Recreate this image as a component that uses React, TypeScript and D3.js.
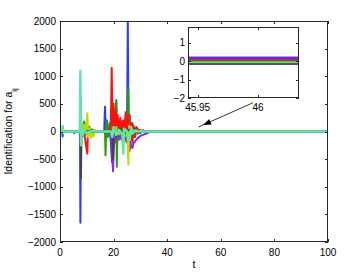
import React from "react";
import * as d3 from "d3";

type Pt = [number, number];

// series, [t, value]
const blueSeries: Pt[] = [
  [0, 0], [0.8, 0], [1, -90], [1.2, 20], [1.5, 0], [5, 0], [5.3, -30], [5.6, 0],
  [7.4, 0], [7.5, -300], [7.6, -1650], [7.8, -200], [8, 60], [8.5, -40], [9, 20],
  [10, -10], [12, 10], [14, 0], [16.5, 0], [16.8, 450], [17.1, -100], [17.5, 200],
  [18, -80], [18.5, 60], [19, -200], [19.4, -550], [19.7, 150], [20, -300],
  [20.4, 100], [21, 530], [21.3, -200], [21.6, 80], [22, -60], [22.5, 200],
  [23, -100], [23.5, 100], [24, -50], [24.5, 50], [25, -100], [25.3, 2000],
  [25.6, -150], [26, 300], [26.5, -100], [27, 150], [27.5, -60], [28, 40],
  [29, -20], [30, 10], [32, 0], [100, 0],
];
const greenSeries: Pt[] = [
  [0, 0], [7.8, 0], [8, 150], [8.5, -80], [9, 180], [9.5, -60], [10, 120],
  [10.5, -40], [11, 80], [11.5, -60], [12, 40], [12.5, -30], [13, 20], [14, 0],
  [16.8, 0], [17, -430], [17.3, 200], [17.8, -100], [18.5, 150], [19, -150],
  [20, 200], [20.5, -200], [21, 570], [21.2, -640], [21.5, 200], [22, -150],
  [22.5, 100], [23, -100], [24, 200], [25, -150], [25.5, 790], [25.8, -200],
  [26.2, 200], [26.7, -150], [27, 100], [27.5, -100], [28, 60], [29, -40],
  [30, 20], [31, 0], [100, 0],
];
const redSeries: Pt[] = [
  [0, 0], [7.5, 0], [8, 50], [9, -20], [10.2, -400], [10.5, 100], [11, -50],
  [12, 20], [13, 0], [18.5, 0], [19, 200], [19.3, 1150], [19.6, -150], [20, 500],
  [20.3, -100], [20.7, 400], [21, -50], [21.5, 300], [22, -20], [22.5, 250],
  [23, 0], [23.5, 200], [24, -30], [24.5, 350], [25, -20], [25.5, 300],
  [26, -350], [26.3, 100], [26.7, 150], [27, -200], [27.5, 100], [28, -100],
  [28.5, 80], [29, 40], [30, 20], [31, 10], [32, 0], [100, 0],
];
const purpleSeries: Pt[] = [
  [0, 0], [18, 0], [19, -100], [19.8, -720], [20.2, -50], [21, -150], [22, -80],
  [23, -150], [24, -100], [25, -200], [26, -150], [26.5, -250], [27, -300],
  [27.5, -200], [28, -180], [29, -120], [30, -80], [31, -60], [32, -40],
  [33, -20], [34, 0], [100, 0],
];
const yellowSeries: Pt[] = [
  [0, 0], [7.8, 0], [8.2, 150], [8.6, -50], [9, 120], [9.5, -30], [10.2, 330],
  [10.5, -100], [11, 60], [11.5, -120], [12, -30], [12.5, -90], [13, 20], [14, 0],
  [19, 0], [20, -100], [21, 80], [22, -50], [24, 30], [25.2, -100], [25.5, -600],
  [25.8, 100], [26.5, -50], [27, 30], [28, 0], [100, 0],
];
const graySeries: Pt[] = [
  [0, 0], [7.5, 0], [7.7, 600], [7.8, -850], [8, -100], [8.3, 50], [9, -20],
  [10, 10], [12, 0], [19.5, 0], [19.8, -500], [20.1, 100], [21, -80], [22, 60],
  [24, -40], [26, 40], [27, -60], [28, 50], [30, -30], [31, 20], [32, -10],
  [33, 0], [100, 0],
];
const aquaSeries: Pt[] = [
  [0, 0], [0.8, 0], [1, 100], [1.2, -30], [1.5, 0], [7.4, 0], [7.6, 1100],
  [7.8, -250], [8, 100], [8.5, -60], [9, 30], [10, -20], [12, 10], [14, 0],
  [19, 0], [19.5, -100], [20, 80], [21, -60], [22, 30], [23.3, -50],
  [23.6, -400], [23.9, 50], [25, 0], [26, -150], [26.5, 80], [27, -40],
  [28, 20], [30, 0], [100, 0],
];

// steady values shown in the zoomed inset (t around 46)
const insetT = [45.942, 46.034];
const insetValues = [0.2, 0.14, 0.06, -0.02, -0.08, -0.16];
const insetColors = ["#8f22ff", "#2a3dff", "#ff1010", "#22a000", "#5ee8a8", "#555555"];

const seriesList: { data: Pt[]; color: string; w: number }[] = [
  { data: blueSeries, color: "#2a3dff", w: 2 },
  { data: greenSeries, color: "#22a000", w: 2 },
  { data: redSeries, color: "#ff1010", w: 2 },
  { data: purpleSeries, color: "#8f22ff", w: 2 },
  { data: yellowSeries, color: "#bcdc00", w: 2 },
  { data: graySeries, color: "#444444", w: 2 },
  { data: aquaSeries, color: "#5ee8a8", w: 2.5 },
];

const xTicks = [0, 20, 40, 60, 80, 100];
const yTicks = [-2000, -1500, -1000, -500, 0, 500, 1000, 1500, 2000];
const insetXTicks = [45.95, 46];
const insetYTicks = [-2, -1, 0, 1];
// arrow in main-axis data coords: tail -> head
const arrowFrom: Pt = [72, 520];
const arrowTo: Pt = [53.4, 118];

const fmt = (v: number) => (v < 0 ? "\u2212" + Math.abs(v) : String(v));

export default function App() {
  const W = 362, H = 273;
  const m = { l: 60, r: 328, t: 21, b: 242 };
  const x = d3.scaleLinear().domain([0, 100]).range([m.l, m.r]);
  const y = d3.scaleLinear().domain([-2000, 2000]).range([m.b, m.t]);
  const line = d3.line<Pt>().x(d => x(d[0])).y(d => y(d[1]));

  const ib = { l: 188, r: 299, t: 27, b: 98 };
  const ix = d3.scaleLinear().domain(insetT).range([ib.l, ib.r]);
  const iy = d3.scaleLinear().domain([-2, 1.85]).range([ib.b, ib.t]);

  const font = "'Liberation Sans', Arial, sans-serif";
  const ax = "#262626";

  const ax1 = x(arrowFrom[0]), ay1 = y(arrowFrom[1]);
  const ax2 = x(arrowTo[0]), ay2 = y(arrowTo[1]);
  const ang = Math.atan2(ay2 - ay1, ax2 - ax1);
  const hl = 8, hw = 3;
  const head = [
    [ax2, ay2],
    [ax2 - hl * Math.cos(ang) + hw * Math.sin(ang), ay2 - hl * Math.sin(ang) - hw * Math.cos(ang)],
    [ax2 - hl * Math.cos(ang) - hw * Math.sin(ang), ay2 - hl * Math.sin(ang) + hw * Math.cos(ang)],
  ].map(p => p.join(",")).join(" ");

  return (
    <svg width={W} height={H} style={{ position: "absolute", left: 0, top: 0, background: "#fff" }}
      fontFamily={font} fontSize={10}>
      <rect width={W} height={H} fill="#fff" />
      <clipPath id="main"><rect x={m.l} y={m.t} width={m.r - m.l} height={m.b - m.t} /></clipPath>
      <g clipPath="url(#main)">
        {seriesList.map((s, i) => (
          <path key={i} d={line(s.data) || ""} fill="none" stroke={s.color} strokeWidth={s.w} strokeLinejoin="round" />
        ))}
      </g>
      {/* main box & ticks */}
      <rect x={m.l + 0.5} y={m.t + 0.5} width={m.r - m.l - 1} height={m.b - m.t - 1} fill="none" stroke={ax} strokeWidth={1} />
      {xTicks.map(t => (
        <g key={"x" + t}>
          <line x1={Math.round(x(t)) + 0.5} x2={Math.round(x(t)) + 0.5} y1={m.b} y2={m.b - 3} stroke={ax} />
          <line x1={Math.round(x(t)) + 0.5} x2={Math.round(x(t)) + 0.5} y1={m.t} y2={m.t + 3} stroke={ax} />
          <text x={x(t)} y={256} textAnchor="middle" fill="#000">{fmt(t)}</text>
        </g>
      ))}
      {yTicks.map(t => (
        <g key={"y" + t}>
          <line x1={m.l} x2={m.l + 3} y1={Math.round(y(t)) + 0.5} y2={Math.round(y(t)) + 0.5} stroke={ax} />
          <line x1={m.r} x2={m.r - 3} y1={Math.round(y(t)) + 0.5} y2={Math.round(y(t)) + 0.5} stroke={ax} />
          <text x={m.l - 4} y={y(t) + 3.5} textAnchor="end" fill="#000">{fmt(t)}</text>
        </g>
      ))}
      <text x={(m.l + m.r) / 2} y={268} textAnchor="middle" fill="#000" fontSize={10.5}>t</text>
      <text transform={`translate(12,${(m.t + m.b) / 2}) rotate(-90)`} textAnchor="middle" fill="#000" fontSize={10.5}>
        Identification for a<tspan baselineShift="sub" fontSize={7.5}>ij</tspan>
      </text>

      {/* arrow */}
      <line x1={ax1} y1={ay1} x2={ax2 + 5 * Math.cos(ang)} y2={ay2 + 5 * Math.sin(ang)} stroke="#000" strokeWidth={0.8} />
      <polygon points={head} fill="#000" />

      {/* inset */}
      <rect x={ib.l} y={ib.t} width={ib.r - ib.l} height={ib.b - ib.t} fill="#fff" />
      {insetValues.map((v, i) => (
        <line key={"iv" + i} x1={ix(insetT[0])} x2={ix(insetT[1])} y1={iy(v)} y2={iy(v)} stroke={insetColors[i]} strokeWidth={2} />
      ))}
      <rect x={ib.l + 0.5} y={ib.t + 0.5} width={ib.r - ib.l - 1} height={ib.b - ib.t - 1} fill="none" stroke={ax} />
      {insetXTicks.map(t => (
        <g key={"ix" + t}>
          <line x1={Math.round(ix(t)) + 0.5} x2={Math.round(ix(t)) + 0.5} y1={ib.b} y2={ib.b - 3} stroke={ax} />
          <line x1={Math.round(ix(t)) + 0.5} x2={Math.round(ix(t)) + 0.5} y1={ib.t} y2={ib.t + 3} stroke={ax} />
          <text x={ix(t)} y={111} textAnchor="middle" fill="#000">{t}</text>
        </g>
      ))}
      {insetYTicks.map(t => (
        <g key={"iy" + t}>
          <line x1={ib.l} x2={ib.l + 3} y1={Math.round(iy(t)) + 0.5} y2={Math.round(iy(t)) + 0.5} stroke={ax} />
          <line x1={ib.r} x2={ib.r - 3} y1={Math.round(iy(t)) + 0.5} y2={Math.round(iy(t)) + 0.5} stroke={ax} />
          <text x={ib.l - 3} y={iy(t) + 3.5} textAnchor="end" fill="#000">{fmt(t)}</text>
        </g>
      ))}
    </svg>
  );
}
